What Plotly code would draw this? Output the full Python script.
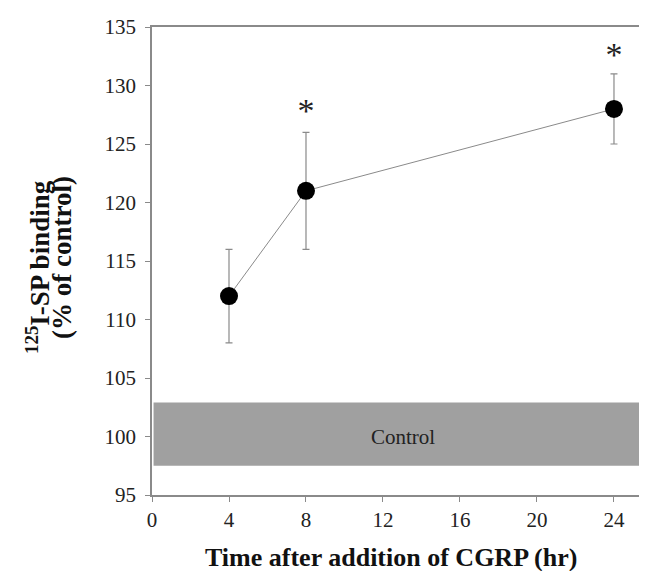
import plotly.graph_objects as go

# Data
hours = [4, 8, 24]
binding = [112, 121, 128]
sem = [4, 5, 3]
signif_x = [8, 24]
signif_y = [127.6, 132.4]
signif_label = ["*", "*"]
control_band = [97.5, 102.9]
control_label = "Control"
x_ticks = [0, 4, 8, 12, 16, 20, 24]
y_ticks = [95, 100, 105, 110, 115, 120, 125, 130, 135]

FONT = "Liberation Serif"
GREY = "#8a8a8a"

fig = go.Figure()

fig.add_shape(type="rect", xref="x", yref="y", x0=0.08, x1=26,
              y0=control_band[0], y1=control_band[1],
              fillcolor="#a0a0a0", line=dict(width=0), layer="below")

fig.add_trace(go.Scatter(
    x=hours, y=binding, mode="lines+markers",
    line=dict(color=GREY, width=1),
    marker=dict(color="black", size=18),
    error_y=dict(type="data", array=sem, visible=True, color=GREY,
                 thickness=1.2, width=3.5),
    showlegend=False, hoverinfo="skip"))

fig.add_trace(go.Scatter(
    x=signif_x, y=signif_y, mode="text", text=signif_label,
    textfont=dict(family=FONT, size=34, color="#222"),
    textposition="middle center", showlegend=False, hoverinfo="skip"))

fig.add_annotation(x=13.05, y=100, xref="x", yref="y", text=control_label,
                   showarrow=False, font=dict(family=FONT, size=21, color="#222"))

fig.add_annotation(x=0, y=0.5, xref="paper", yref="paper", xanchor="center",
                   yanchor="middle", xshift=-114, yshift=-6, textangle=-90,
                   text="<b><sup>125</sup>I-SP binding</b>", showarrow=False,
                   font=dict(family=FONT, size=27, color="#111"))
fig.add_annotation(x=0, y=0.5, xref="paper", yref="paper", xanchor="center",
                   yanchor="middle", xshift=-90, yshift=3, textangle=-90,
                   text="<b>(% of control)</b>", showarrow=False,
                   font=dict(family=FONT, size=27, color="#111"))
fig.add_annotation(x=0.5, y=0, xref="paper", yref="paper", xanchor="center",
                   yanchor="middle", xshift=-5, yshift=-62,
                   text="<b>Time after addition of CGRP (hr)</b>", showarrow=False,
                   font=dict(family=FONT, size=26, color="#111"))

fig.update_xaxes(range=[0, 25.3], tickvals=x_ticks, ticktext=[str(v) for v in x_ticks],
                 showline=True, linecolor=GREY, linewidth=1.5, mirror=True,
                 ticks="outside", ticklen=5, tickcolor=GREY, tickwidth=1,
                 showgrid=False, zeroline=False, automargin=False,
                 tickfont=dict(family=FONT, size=21, color="#222"))
fig.update_yaxes(range=[95, 135], tickvals=y_ticks, ticktext=[str(v) for v in y_ticks],
                 showline=True, linecolor=GREY, linewidth=1.5,
                 ticks="outside", ticklen=5, tickcolor=GREY, tickwidth=1,
                 ticklabelstandoff=5,
                 showgrid=False, zeroline=False, automargin=False,
                 tickfont=dict(family=FONT, size=21, color="#222"))

fig.update_layout(width=631, height=563, plot_bgcolor="white", paper_bgcolor="white",
                  margin=dict(l=144, r=0, t=19, b=76))

fig.write_html("out.html")
